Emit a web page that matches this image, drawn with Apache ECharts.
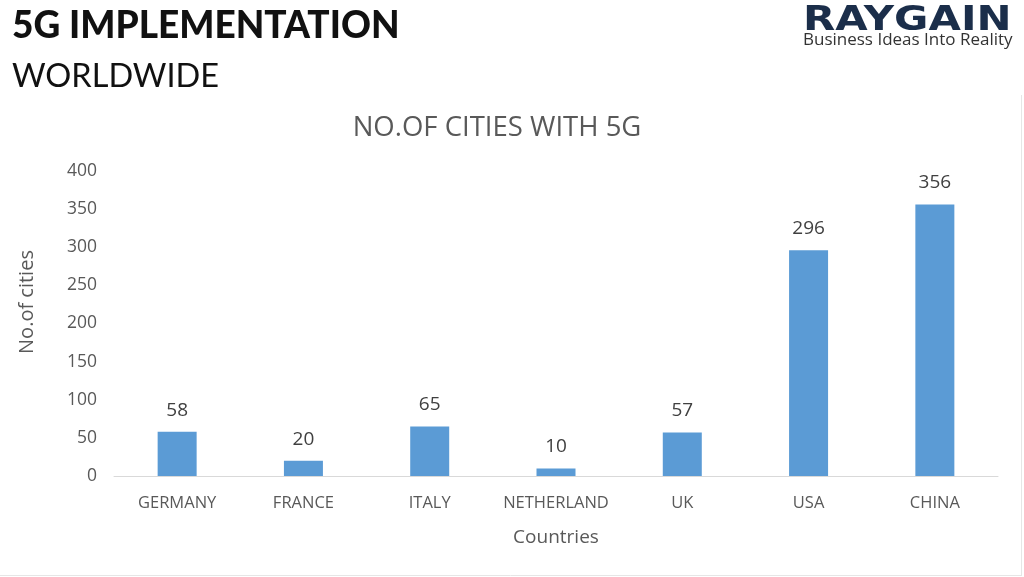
<!DOCTYPE html>
<html><head><meta charset="utf-8">
<script src="https://cdn.jsdelivr.net/npm/echarts@6/dist/echarts.min.js"></script>
<style>html,body{margin:0;padding:0;background:#fff}#c{width:1024px;height:577px}</style>
</head><body><div id="c"></div>
<script>
const countries = ['GERMANY','FRANCE','ITALY','NETHERLAND','UK','USA','CHINA'];
const cities = [58, 20, 65, 10, 57, 296, 356];
const yTicks = [0, 50, 100, 150, 200, 250, 300, 350, 400];

const chart = echarts.init(document.getElementById('c'));
const font = '"Open Sans", sans-serif';
chart.setOption({
  backgroundColor: '#ffffff',
  animation: false,
  graphic: [
    {type:'text', left:12, top:8, style:{text:'5G IMPLEMENTATION', font:'900 37px Lato, sans-serif', fill:'#111'}},
    {type:'text', left:12, top:60, style:{text:'WORLDWIDE', font:'400 32.5px Lato, sans-serif', fill:'#111'}},
    {type:'text', x:803, y:5, scaleX:1.27, style:{text:'RAYGAIN', font:'900 33px "DejaVu Sans", sans-serif', fill:'#1b2e4a'}},
    {type:'text', x:803, y:32, style:{text:'Business Ideas Into Reality', font:'400 17px "Open Sans", sans-serif', fill:'#333'}},
    {type:'text', x:27, y:302, rotation:Math.PI/2, style:{text:'No.of cities', font:'400 20px "Open Sans", sans-serif', fill:'#595959', align:'center', verticalAlign:'middle'}},
    {type:'line', shape:{x1:0, y1:575.5, x2:1021, y2:575.5}, style:{stroke:'#e6e6e6', lineWidth:1}},
    {type:'line', shape:{x1:1021.5, y1:95, x2:1021.5, y2:576}, style:{stroke:'#e6e6e6', lineWidth:1}}
  ],
  title: {
    text: 'NO.OF CITIES WITH 5G', left: 492, top: 109, textAlign: 'center',
    textStyle: {fontFamily: font, fontWeight: 'normal', fontSize: 27.5, color: '#595959'}
  },
  grid: {left: 114, right: 26, top: 171, bottom: 101},
  xAxis: {
    type: 'category', data: countries,
    name: 'Countries', nameLocation: 'middle', nameGap: 52,
    nameTextStyle: {fontFamily: font, fontSize: 19, color: '#595959'},
    axisLine: {lineStyle: {color: '#d9d9d9'}},
    axisTick: {show: false},
    axisLabel: {interval: 0, fontFamily: font, fontSize: 16.5, color: '#595959', margin: 19}
  },
  yAxis: {
    type: 'value', min: yTicks[0], max: yTicks[yTicks.length-1], interval: 50,
    axisLine: {show: false}, axisTick: {show: false},
    splitLine: {show: false},
    axisLabel: {fontFamily: font, fontSize: 17.5, color: '#595959', margin: 17}
  },
  series: [{
    type: 'bar', data: cities, barWidth: 39,
    itemStyle: {color: '#5b9bd5'},
    label: {show: true, position: 'top', distance: 12, fontFamily: font, fontSize: 19, color: '#404040'}
  }]
});
</script></body></html>
